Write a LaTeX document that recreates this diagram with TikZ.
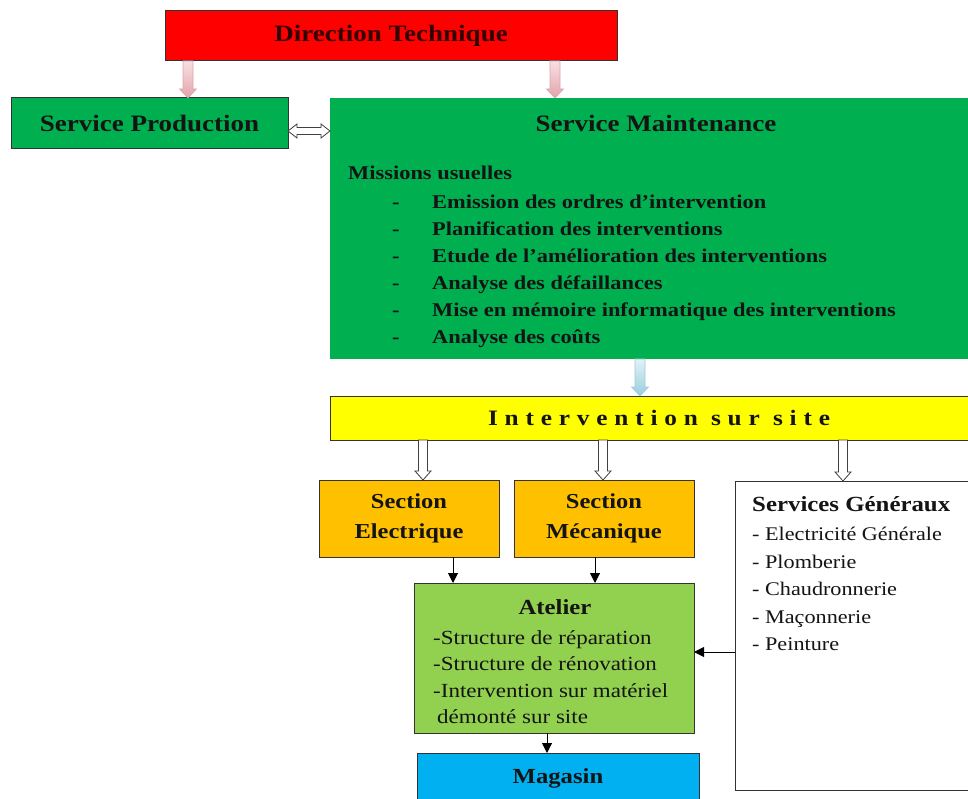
\documentclass[tikz,border=0pt]{standalone}
\usepackage{fontspec}
\setmainfont[FakeStretch=1.15]{Liberation Serif}
\usetikzlibrary{arrows.meta,calc}
\definecolor{dtred}{HTML}{FF0000}
\definecolor{smgreen}{HTML}{00B050}
\definecolor{ityellow}{HTML}{FFFF00}
\definecolor{secorange}{HTML}{FFC000}
\definecolor{atgreen}{HTML}{92D050}
\definecolor{magblue}{HTML}{00B0F0}
\definecolor{pinkA}{HTML}{F8E0E3}
\definecolor{pinkB}{HTML}{E2A3AB}
\definecolor{blueA}{HTML}{E2F2F7}
\definecolor{blueB}{HTML}{98CEDD}
\definecolor{txt}{HTML}{141414}
\newcommand\mitem[1]{\hspace*{44pt}\makebox[40pt][l]{-}#1}
% #1 style, #2 start, #3 end, #4 half shaft, #5 half head, #6 head length
\newcommand\dnarrow[6]{%
  \path[#1] let \p1=#2, \p2=#3 in
    ({\x1-#4},\y1) -- ({\x1+#4},\y1) -- ({\x1+#4},{\y2+#6}) -- ({\x1+#5},{\y2+#6})
    -- (\x1,\y2) -- ({\x1-#5},{\y2+#6}) -- ({\x1-#4},{\y2+#6}) -- cycle;}
\begin{document}
\begin{tikzpicture}[x=1pt,y=-1pt,
  box/.style={draw=black!80, line width=1pt, inner sep=0pt, outer sep=0pt},
  title/.style={font=\bfseries\fontsize{23.5}{28}\selectfont, text=txt},
  sect/.style={font=\bfseries\fontsize{21.3}{30}\selectfont, align=center, text=txt},
  hollowa/.style={draw=black!75, fill=white, line width=0.8pt, line join=miter},
  pinkarrow/.style={top color=pinkA, bottom color=pinkB, draw=pinkB, line width=0.6pt},
  bluearrow/.style={top color=blueA, bottom color=blueB, draw=blueB, line width=0.6pt},
  blk/.style={draw=black, line width=1pt, -{Triangle[length=10pt,width=10pt]}},
]
\useasboundingbox (0,0) rectangle (968,799);
\fill[white] (0,0) rectangle (968,799);

% coordinates for connector positions
\coordinate (xa) at (188,0);
\coordinate (xb) at (555,0);
\coordinate (xc) at (640,0);
\coordinate (x1) at (423,0);
\coordinate (x2) at (603,0);
\coordinate (x3) at (843,0);
\coordinate (x4) at (453,0);
\coordinate (x5) at (595,0);
\coordinate (x6) at (547,0);
\coordinate (ya) at (0,131);
\coordinate (y6) at (0,652);

% boxes
\node[box, fill=dtred, minimum width=452pt, minimum height=50pt, title, text=black!80!red] (dt) at (391,36) {Direction Technique};
\node[box, fill=smgreen, minimum width=277pt, minimum height=51pt, title] (sp) at (149.5,123.5) {Service Production};
\node[fill=smgreen, minimum width=642pt, minimum height=261pt, inner sep=0pt, outer sep=0pt] (sm) at (651,228.5) {};
\node[title] (smt) at (656,123) {Service Maintenance};
\node[anchor=north west, inner sep=0pt, align=left, text=txt,
      font=\bfseries\fontsize{19.5}{27}\selectfont] (miss) at (348,166) {%
Missions usuelles\\[2pt]
\mitem{Emission des ordres d’intervention}\\
\mitem{Planification des interventions}\\
\mitem{Etude de l’amélioration des interventions}\\
\mitem{Analyse des défaillances}\\
\mitem{Mise en mémoire informatique des interventions}\\
\mitem{Analyse des coûts}};

\node[box, fill=ityellow, minimum width=642pt, minimum height=44pt] (it) at (651,418) {};
\node[font=\bfseries\fontsize{22}{26}\selectfont, text=txt] (itt) at (659,418) {\addfontfeature{LetterSpace=31}Intervention sur site};

\node[box, fill=secorange, minimum width=180pt, minimum height=77pt, sect] (se) at (409,518.5) {Section\\Electrique};
\node[box, fill=secorange, minimum width=180pt, minimum height=77pt, sect] (sme) at (604,518.5) {Section\\Mécanique};
\node[box, fill=white, minimum width=237pt, minimum height=309pt] (sg) at (853.5,635.5) {};
\node[anchor=north west, inner sep=0pt, align=left, text=txt,
      font=\fontsize{19.3}{27.5}\selectfont] (sgt) at (752,496) {%
{\bfseries\fontsize{21.6}{26}\selectfont Services Généraux}\\[2pt]
- Electricité Générale\\
- Plomberie\\
- Chaudronnerie\\
- Maçonnerie\\
- Peinture};

\node[box, fill=atgreen, minimum width=280pt, minimum height=150pt] (at) at (554,658) {};
\node[font=\bfseries\fontsize{21.5}{26}\selectfont, text=txt] (att) at (555,607) {Atelier};
\node[anchor=north west, inner sep=0pt, align=left, text=txt,
      font=\fontsize{20}{26.5}\selectfont] (atl) at (433,630) {%
-Structure de réparation\\
-Structure de rénovation\\
-Intervention sur matériel\\
\hspace*{4pt}démonté sur site};

\node[box, fill=magblue, minimum width=282pt, minimum height=50pt,
      font=\bfseries\fontsize{21.5}{26}\selectfont, text=txt] (mag) at (558,778) {Magasin};

% connectors
\dnarrow{pinkarrow}{(dt.south -| xa)}{(sp.north -| xa)}{5pt}{8.5pt}{9pt}
\dnarrow{pinkarrow}{(dt.south -| xb)}{(sm.north -| xb)}{5pt}{8.5pt}{9pt}
\dnarrow{bluearrow}{(sm.south -| xc)}{(it.north -| xc)}{5pt}{8.5pt}{9pt}

\path[hollowa] let \p1=(sp.east |- ya), \p2=(sm.west |- ya) in
  (\x1,\y1) -- ({\x1+9pt},{\y1+7pt}) -- ({\x1+9pt},{\y1+3.5pt}) -- ({\x2-9pt},{\y1+3.5pt})
  -- ({\x2-9pt},{\y1+7pt}) -- (\x2,\y1) -- ({\x2-9pt},{\y1-7pt}) -- ({\x2-9pt},{\y1-3.5pt})
  -- ({\x1+9pt},{\y1-3.5pt}) -- ({\x1+9pt},{\y1-7pt}) -- cycle;

\dnarrow{hollowa}{(it.south -| x1)}{(se.north -| x1)}{4.5pt}{8pt}{9pt}
\dnarrow{hollowa}{(it.south -| x2)}{(sme.north -| x2)}{4.5pt}{8pt}{9pt}
\dnarrow{hollowa}{(it.south -| x3)}{(sg.north -| x3)}{4.5pt}{8pt}{9pt}

\draw[blk] (se.south -| x4) -- (at.north -| x4);
\draw[blk] (sme.south -| x5) -- (at.north -| x5);
\draw[blk] (at.south -| x6) -- (mag.north -| x6);
\draw[blk] (sg.west |- y6) -- (at.east |- y6);
\end{tikzpicture}
\end{document}
